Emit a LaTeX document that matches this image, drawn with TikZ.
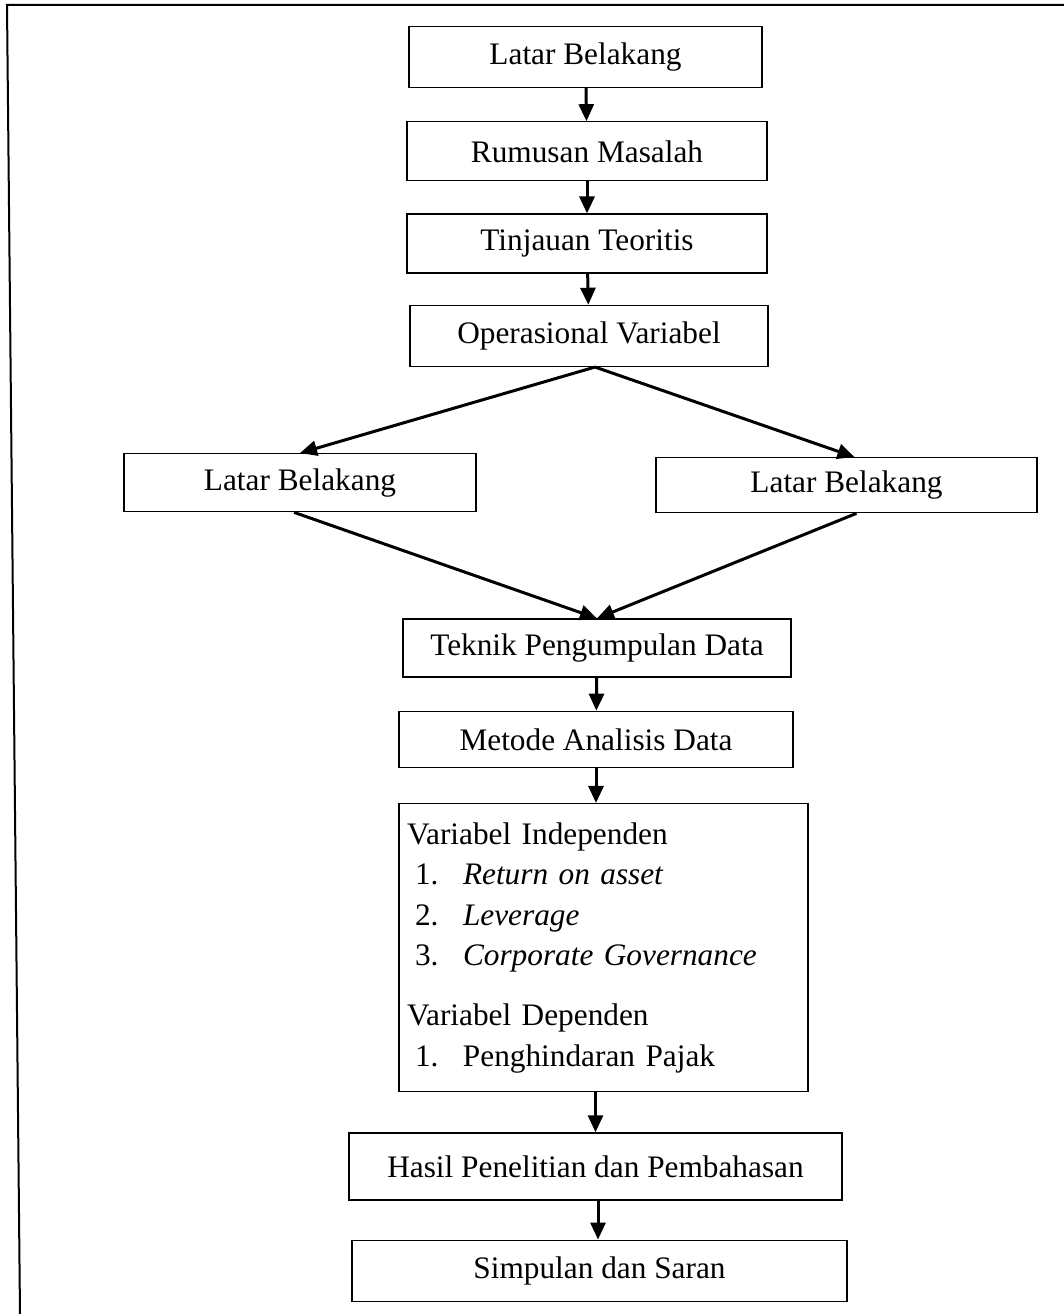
\documentclass[tikz,border=0pt]{standalone}
\usepackage{fontspec}
\setmainfont{Liberation Serif}
\usepackage{tikz}
\usetikzlibrary{arrows.meta, positioning}

\tikzset{
  stepbox/.style = {draw, line width=1.3pt, inner sep=0pt, align=center},
  flow/.style = {line width=3pt, ->}
}

\begin{document}
\begin{tikzpicture}[x=1pt, y=-1pt, node distance = 32pt,
    font=\fontsize{31.3}{40.5}\selectfont,
    >={Triangle[length=17pt,width=15pt]}]
  \useasboundingbox (0,0) rectangle (1064,1314);

  % frame (only top and left edges are visible)
  \coordinate (ftl) at (7,5);
  \coordinate (ftr) at (1064,5);
  \coordinate (fbl) at (20,1314);
  \draw [line width=2pt] (ftr) -- (ftl) -- (fbl);

  \node [stepbox, minimum width=353pt, minimum height=61pt] (latar) at (585.5,57) {Latar Belakang};
  \node [stepbox, minimum width=360pt, minimum height=59pt, below=33pt of latar, xshift=1.5pt] (rumusan) {Rumusan Masalah};
  \node [stepbox, minimum width=360pt, minimum height=59pt, below=32pt of rumusan] (tinjauan) {Tinjauan Teoritis};
  \node [stepbox, minimum width=358pt, minimum height=61pt, below=31pt of tinjauan, xshift=2pt] (operasional) {Operasional Variabel};

  \node [stepbox, minimum width=352pt, minimum height=58pt, below=86pt of operasional, xshift=-289pt] (kiri) {Latar Belakang};
  \node [stepbox, minimum width=381pt, minimum height=55pt, below=90pt of operasional, xshift=257.5pt] (kanan) {Latar Belakang};

  \node [stepbox, minimum width=388pt, minimum height=58pt, below=106pt of kiri, xshift=297pt] (teknik) {Teknik Pengumpulan Data};
  \node [stepbox, minimum width=394pt, minimum height=56pt, below=33pt of teknik, xshift=-1pt] (metode) {Metode Analisis Data};

  \node [stepbox, align=left, text width=393pt, inner xsep=8pt, minimum height=288pt,
         below=35pt of metode, xshift=7.5pt] (variabel) {%
    Variabel Independen\\
    \hspace*{8pt}\makebox[48pt][l]{1.}\textit{Return on asset}\\
    \hspace*{8pt}\makebox[48pt][l]{2.}\textit{Leverage}\\
    \hspace*{8pt}\makebox[48pt][l]{3.}\textit{Corporate Governance}\\[19.5pt]
    Variabel Dependen\\
    \hspace*{8pt}\makebox[48pt][l]{1.}Penghindaran Pajak};

  \node [stepbox, minimum width=493pt, minimum height=67pt, below=40pt of variabel, xshift=-8pt] (hasil) {Hasil Penelitian dan Pembahasan};
  \node [stepbox, minimum width=495pt, minimum height=61pt, below=39pt of hasil, xshift=4pt] (simpulan) {Simpulan dan Saran};

  \draw [flow] (latar) -- (rumusan);
  \draw [flow] (rumusan) -- (tinjauan);
  \draw [flow] (tinjauan) -- (operasional);
  \draw [flow] ([xshift=6pt]operasional.south) -- (kiri.north);
  \draw [flow] ([xshift=6pt]operasional.south) -- ([xshift=8pt]kanan.north);
  \draw [flow] ([xshift=-6pt]kiri.south) -- (teknik.north);
  \draw [flow] ([xshift=10pt]kanan.south) -- (teknik.north);
  \draw [flow] (teknik) -- (metode);
  \draw [flow] (metode.south) -- (metode.south |- variabel.north);
  \draw [flow] (hasil.north |- variabel.south) -- (hasil);
  \draw [flow] ([xshift=2.5pt]hasil.south) -- ([xshift=-1.5pt]simpulan.north);
\end{tikzpicture}
\end{document}
